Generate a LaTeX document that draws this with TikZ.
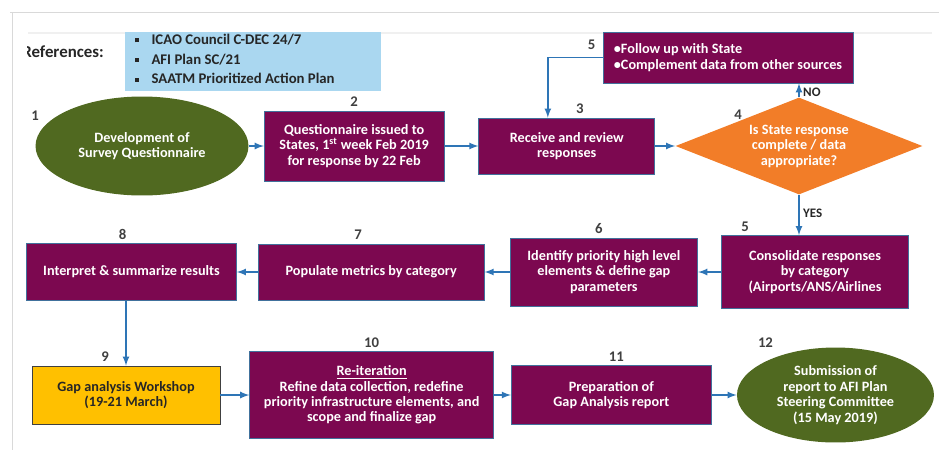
\documentclass[tikz,border=0pt]{standalone}
\usepackage{fontspec}
\setmainfont{Carlito}
\usetikzlibrary{shapes,arrows,positioning}

\definecolor{plum}{RGB}{124,8,80}
\definecolor{leaf}{RGB}{80,105,32}
\definecolor{tangerine}{RGB}{242,125,40}
\definecolor{amber}{RGB}{255,192,0}
\definecolor{refblue}{RGB}{170,215,240}
\definecolor{flowblue}{RGB}{46,117,182}
\definecolor{boxline}{RGB}{65,113,156}
\definecolor{numgray}{RGB}{64,64,64}
\definecolor{inkdark}{RGB}{38,38,38}

\newcommand{\flowfont}{\bfseries\fontsize{8.1}{8.8}\selectfont}
\newcommand{\sqbullet}{\raisebox{0.3ex}{\rule{2.2pt}{2.2pt}}\hspace{7pt}}

\begin{document}
\begin{tikzpicture}[x=0.02cm, y=-0.02cm, >=latex]
    \tikzstyle{startend} = [ellipse, fill=leaf, text=white, align=center, font=\flowfont, inner sep=0pt]
    \tikzstyle{process}  = [draw=boxline, fill=plum, text=white, align=center, font=\flowfont, inner sep=2pt]
    \tikzstyle{decision} = [diamond, fill=tangerine, text=white, align=center, font=\flowfont, aspect=2.5, inner sep=0pt]
    \tikzstyle{arrow}    = [line width=0.8pt, draw=flowblue, ->]
    \tikzstyle{num}      = [text=numgray, font=\bfseries\fontsize{8.4}{9}\selectfont, inner sep=1pt]
    \tikzstyle{answer}   = [text=inkdark, font=\bfseries\fontsize{7.4}{8}\selectfont, inner sep=2pt]

    \useasboundingbox (0,0) rectangle (939,450);

    % Page frame and shadow
    \draw[gray!30] (10,12) -- (939,12);
    \draw[gray!30] (12,12) -- (12,450);
    \draw[gray!12, line width=1.7pt] (28,33) -- (932,33);

    % References
    \fill[refblue] (125,32) rectangle (381,91);
    \begin{scope}
        \clip (27,35) rectangle (124,70);
        \node[anchor=west, text=inkdark, font=\bfseries\fontsize{9.6}{11}\selectfont, inner sep=0pt] (refs) at (22,52) {References:};
    \end{scope}
    \node[anchor=west, align=left, text=inkdark, font=\bfseries\fontsize{8.4}{11.2}\selectfont, inner sep=0pt] (reflist) at (135,59)
        {\sqbullet ICAO Council C-DEC 24/7\\\sqbullet AFI Plan SC/21\\\sqbullet SAATM Prioritized Action Plan};

    % First row
    \node [startend, minimum width=4.26cm, minimum height=1.98cm] (dev) at (142,146) {Development of\\Survey Questionnaire};
    \node [process, minimum width=3.6cm, minimum height=1.4cm, right=0.3cm of dev] (issue) {Questionnaire issued to\\States, 1\textsuperscript{st} week Feb 2019\\for response by 22 Feb};
    \node [process, minimum width=3.52cm, minimum height=1.12cm, right=0.68cm of issue] (review) {Receive and review\\responses};
    \node [decision, minimum width=4.94cm, minimum height=1.94cm, right=0.4cm of review] (check) {Is State response\\complete / data\\appropriate?};
    \node [process, align=left, minimum width=5cm, minimum height=1.02cm] (follow) at (728,57.5) {\textbullet Follow up with State\\\textbullet Complement data from other sources};

    % Second row
    \node [process, minimum width=3.74cm, minimum height=1.46cm] (consol) at (815,272) {Consolidate responses\\by category\\(Airports/ANS/Airlines};
    \node [process, minimum width=3.76cm, minimum height=1.36cm, left=0.46cm of consol] (ident) {Identify priority high level\\elements \& define gap\\parameters};
    \node [process, minimum width=4.52cm, minimum height=1.12cm, left=0.5cm of ident] (popul) {Populate metrics by category};
    \node [process, minimum width=4.2cm, minimum height=1.14cm, left=0.42cm of popul] (interp) {Interpret \& summarize results};

    % Third row
    \node [process, fill=amber, draw=numgray, text=inkdark, minimum width=3.76cm, minimum height=1.16cm] (workshop) at (126,395) {Gap analysis Workshop\\(19-21 March)};
    \node [process, minimum width=4.88cm, minimum height=1.74cm, right=0.58cm of workshop] (reiter) {\underline{Re-iteration}\\Refine data collection, redefine\\priority infrastructure elements, and\\scope and finalize gap};
    \node [process, minimum width=4.0cm, minimum height=1.18cm, right=0.34cm of reiter] (prep) {Preparation of\\Gap Analysis report};
    \node [startend, minimum width=3.94cm, minimum height=1.9cm, right=0.5cm of prep] (submit) {Submission of\\report to AFI Plan\\Steering Committee\\(15 May 2019)};

    % Step numbers
    \node [num] (n1) at ([yshift=0.6cm]dev.west) {1};
    \node [num, above=1pt of issue] (n2) {2};
    \node [num, above=1pt of review, xshift=0.26cm] (n3) {3};
    \node [num] (n4) at ([xshift=-1.22cm, yshift=-0.36cm]check.north) {4};
    \node [num] (n5a) at ([xshift=-0.22cm, yshift=-0.26cm]follow.north west) {5};
    \node [num, above=1pt of consol.north, xshift=-1.4cm] (n5b) {5};
    \node [num, above=1pt of ident, xshift=-0.1cm] (n6) {6};
    \node [num, above=1pt of popul, xshift=-0.26cm] (n7) {7};
    \node [num, above=1pt of interp, xshift=-0.18cm] (n8) {8};
    \node [num, above=1pt of workshop, xshift=-0.42cm] (n9) {9};
    \node [num, above=1pt of reiter] (n10) {10};
    \node [num, above=1pt of prep, xshift=0.1cm] (n11) {11};
    \node [num] (n12) at ([xshift=-1.4cm, yshift=0.09cm]submit.north) {12};

    % Connections
    \draw [arrow] (dev) -- (issue);
    \draw [arrow] (issue) -- (review);
    \draw [arrow] (review) -- (check);
    \draw [arrow] (check.north) -- node[answer, right, pos=0.35] {NO} (check.north |- follow.south);
    \draw [arrow] (follow.west) -| ([xshift=-0.38cm]review.north);
    \draw [arrow] (check.south) -- node[answer, right, pos=0.45] {YES} (check.south |- consol.north);

    \draw [arrow] (consol) -- (ident);
    \draw [arrow] (ident) -- (popul);
    \draw [arrow] (popul) -- (interp);
    \draw [arrow] (workshop.north |- interp.south) -- (workshop.north);

    \draw [arrow] (workshop) -- (reiter);
    \draw [arrow] (reiter) -- (prep);
    \draw [arrow] (prep) -- (submit);
\end{tikzpicture}
\end{document}
